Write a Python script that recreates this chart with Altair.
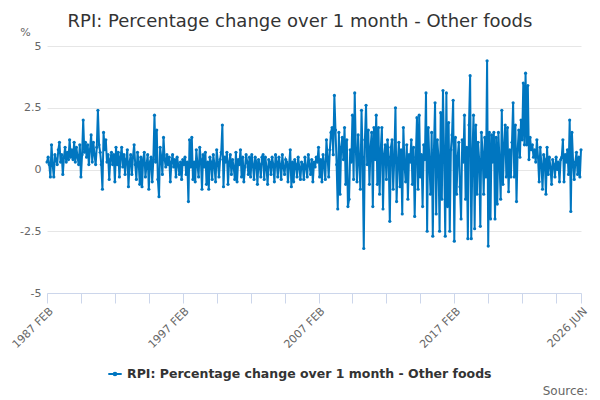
import altair as alt
import pandas as pd

# Monthly values, 1987 FEB .. 2026 JUN
y1987 = [0.3, 0.5, 0.2, -0.3, 1.0, 0.2, -0.3, 0.6, 0.4, 0.2, 0.8]
y1988 = [1.1, 0.3, 0.6, -0.2, 0.5, 0.9, 0.3, 0.7, 0.4, 1.2, 0.5, 0.8]
y1989 = [0.4, 1.1, 0.3, 0.9, 0.5, 0.2, 1.0, -0.3, 0.6, 2.0, 0.7, 1.1]
y1990 = [0.5, 1.0, 0.2, 0.8, 1.4, 0.3, 1.1, 0.6, 0.2, 0.9, 2.4, 1.0]
y1991 = [0.7, 0.2, -0.8, 1.5, 0.8, 1.2, 0.3, 0.6, -0.4, 0.4, 0.7, 0.2]
y1992 = [0.6, -0.5, 0.9, 0.2, 0.7, -0.3, 0.5, 0.9, 0.1, 0.6, -0.2, 0.4]
y1993 = [0.8, -0.7, 0.3, 0.6, -0.2, 0.5, 1.0, 0.2, -0.4, 0.7, 0.3, -0.6]
y1994 = [0.5, -0.7, 0.4, 0.7, -0.3, 0.2, 0.6, -0.8, 0.3, 0.5, -0.5, 0.4]
y1995 = [2.2, 0.3, 1.6, -0.4, -1.1, 0.9, 0.5, -0.2, 1.3, 0.4, 0.1, 0.6]
y1996 = [0.2, 0.5, -0.5, 0.3, 0.6, 0.1, 0.4, -0.3, 0.5, 0.2, -0.2, 0.3]
y1997 = [-0.4, 0.4, 0.2, 0.5, -0.2, 0.3, -1.3, 1.2, 0.1, 1.3, -0.4, 0.3]
y1998 = [-0.5, 0.8, 0.2, -0.3, 0.9, 0.4, -0.8, 0.6, 0.1, 0.7, -0.6, 0.3]
y1999 = [-0.8, 0.5, 0.3, -0.4, 0.6, 0.2, -0.5, 0.8, 0.3, -0.3, 0.4, 0.7]
y2000 = [1.8, -0.7, 0.5, 0.3, 0.7, -0.6, 0.3, 0.6, -0.2, 0.4, 0.1, -0.4]
y2001 = [0.7, -0.5, 0.4, 0.2, 0.8, -0.3, 0.5, -0.5, 0.1, 0.6, 0.3, -0.2]
y2002 = [0.5, -0.3, 0.6, 0.2, -0.4, 0.5, 0.3, -0.6, 0.4, 0.2, -0.3, 0.5]
y2003 = [0.6, -0.4, 0.5, 0.1, -0.6, 0.4, 0.3, -0.2, 0.5, 0.2, -0.5, 0.6]
y2004 = [0.3, -0.3, 0.5, 0.2, -0.4, 0.6, 0.1, -0.2, 0.4, 0.3, -0.5, 0.2]
y2005 = [0.8, -0.7, 0.3, -0.5, 0.4, 0.2, -0.3, 0.5, 0.1, -0.4, 0.3, 0.2]
y2006 = [-0.4, 0.5, 0.1, -0.3, 0.6, 0.2, -0.2, 0.4, -0.5, 0.3, 0.1, 0.5]
y2007 = [0.3, 0.9, -0.3, 0.4, -0.5, 0.6, 0.2, -0.4, 1.2, 0.5, -0.3, 0.8]
y2008 = [1.5, 1.7, 0.6, 3.0, 1.6, 0.2, -1.6, 1.5, -1.0, 0.9, 1.3, 0.4]
y2009 = [1.7, -0.6, 1.2, -1.5, -1.2, 0.8, 0.3, 2.2, -0.4, 3.1, 0.8, -0.5]
y2010 = [1.4, 0.3, -0.8, 2.4, 0.5, -3.2, 1.2, 2.6, 0.2, 1.6, -0.6, 0.9]
y2011 = [1.5, -1.5, 1.7, 0.4, 2.2, -0.6, 1.7, -1.0, 0.8, 1.7, -1.6, 0.6]
y2012 = [1.0, -0.4, 1.2, 0.5, -2.1, 0.9, 1.2, -0.8, 0.5, 2.5, -1.3, 0.2]
y2013 = [1.1, -0.7, 0.8, -1.8, 1.7, 0.2, -0.5, 1.0, -1.2, 0.6, 0.3, 1.2]
y2014 = [-0.6, 0.9, -1.9, 0.5, 2.1, -0.8, 2.2, -0.3, 0.6, -1.5, 1.0, 0.4]
y2015 = [3.1, -2.5, 1.7, 0.3, -1.0, 1.5, -2.7, 0.8, 2.7, -1.8, 1.2, 0.5]
y2016 = [-2.5, 2.3, -1.2, 3.2, 0.6, -2.7, 3.1, -1.5, 1.9, -2.5, 0.8, 1.4]
y2017 = [2.8, -2.9, 1.3, -1.0, 0.5, 1.1, -0.7, -2.0, 1.2, 0.3, 2.2, -1.2]
y2018 = [0.9, -2.8, 1.8, 3.8, -2.8, 0.5, 2.2, -2.4, 1.8, -1.0, 1.1, 0.4]
y2019 = [-2.3, 1.5, 0.7, -1.0, 1.3, -0.3, 4.4, -3.1, 1.5, -2.0, 1.4, 0.3]
y2020 = [1.5, -2.0, 1.3, -1.4, 1.5, 0.3, -1.2, 2.4, -0.6, 0.9, 1.8, -0.3]
y2021 = [1.7, -0.9, 0.8, -0.3, 1.1, 2.7, -0.3, 1.8, -1.3, 0.8, 1.6, 0.5]
y2022 = [2.0, 1.2, 3.5, 1.0, 3.9, 1.0, 3.4, 0.4, 1.3, 0.8, 1.0, 0.5]
y2023 = [0.8, 0.3, 1.2, 0.5, -0.5, 0.9, 0.2, -0.8, 0.6, 0.4, -1.0, 0.9]
y2024 = [-0.2, 0.5, 0.1, -0.6, 0.4, 0.2, -0.3, 0.5, 0.0, 0.3, -0.5, 0.4]
y2025 = [0.5, 1.2, -0.5, 0.6, 0.3, 0.8, -0.2, 2.0, -1.7, 1.5, 0.3, -0.4]
y2026 = [0.3, 0.7, -0.2, 0.5, -0.3, 0.8]

years = [y1987, y1988, y1989, y1990, y1991, y1992, y1993, y1994, y1995, y1996,
         y1997, y1998, y1999, y2000, y2001, y2002, y2003, y2004, y2005, y2006,
         y2007, y2008, y2009, y2010, y2011, y2012, y2013, y2014, y2015, y2016,
         y2017, y2018, y2019, y2020, y2021, y2022, y2023, y2024, y2025, y2026]

tick_positions = [0, 30, 60, 90, 120, 150, 180, 210, 240, 270, 300, 330, 360, 390, 420, 450, 472]
tick_labels = {0: "1987 FEB", 120: "1997 FEB", 240: "2007 FEB", 360: "2017 FEB", 472: "2026 JUN"}
y_ticks = [-5, -2.5, 0, 2.5, 5]

SERIES = "RPI: Percentage change over 1 month - Other foods"
BLUE = "#0076c0"
FONT = "DejaVu Sans"

values = [v for yr in years for v in yr]
df = pd.DataFrame({"idx": list(range(len(values))), "value": values, "series": SERIES})

label_expr = " : ".join(
    [f"datum.value == {k} ? '{v}'" for k, v in tick_labels.items()]
) + " : ''"

line = alt.Chart(df).mark_line(
    strokeWidth=2,
    point=alt.OverlayMarkDef(size=10, filled=True, color=BLUE),
).encode(
    x=alt.X("idx:Q", scale=alt.Scale(domain=[0, 472], nice=False, zero=False),
            axis=alt.Axis(values=tick_positions, labelExpr=label_expr, title=None,
                          grid=False, domainColor="#ccd6eb", tickColor="#ccd6eb",
                          tickSize=10, labelAngle=-45, labelAlign="right",
                          labelBaseline="top", labelFont=FONT, labelFontSize=11,
                          labelColor="#666666", labelPadding=2, labelOverlap=False,
                          labelFlush=False)),
    y=alt.Y("value:Q", scale=alt.Scale(domain=[-5, 5], nice=False),
            axis=alt.Axis(values=y_ticks, labelExpr="'' + datum.value", title="%",
                          titleAngle=0, titleX=-22, titleY=-14, titleAlign="center",
                          titleBaseline="middle", titleFont=FONT, titleFontSize=11,
                          titleFontWeight="normal", titleColor="#666666",
                          grid=True, gridColor="#e6e6e6", domain=False, ticks=False,
                          labelFont=FONT, labelFontSize=11, labelColor="#666666",
                          labelPadding=6)),
    color=alt.Color("series:N", scale=alt.Scale(range=[BLUE]),
                    legend=alt.Legend(title=None, orient="none", legendX=60, legendY=320,
                                      symbolType="M-1,0L1,0M-0.2,0a0.2,0.2 0 1,0 0.4,0a0.2,0.2 0 1,0 -0.4,0",
                                      symbolStrokeWidth=2, symbolSize=180,
                                      labelFont=FONT, labelFontSize=12.5,
                                      labelFontWeight="bold", labelColor="#333333",
                                      labelLimit=500)),
)

source = alt.Chart(pd.DataFrame({"t": ["Source:"]})).mark_text(
    align="right", baseline="middle", font=FONT, fontSize=12, color="#666666"
).encode(text="t:N", x=alt.value(541), y=alt.value(345))

chart = alt.layer(line, source).properties(
    width=534, height=247,
    autosize=alt.AutoSizeParams(type="none"),
    padding={"left": 39, "top": 38, "right": 10, "bottom": 104},
    title=alt.TitleParams(SERIES, font=FONT, fontSize=18, fontWeight="normal",
                          color="#333333", anchor="middle", dx=-14, dy=19, offset=0,
                          baseline="alphabetic"),
).configure_view(stroke=None)

chart.save("out.html", embed_options={"renderer": "svg", "actions": False})
